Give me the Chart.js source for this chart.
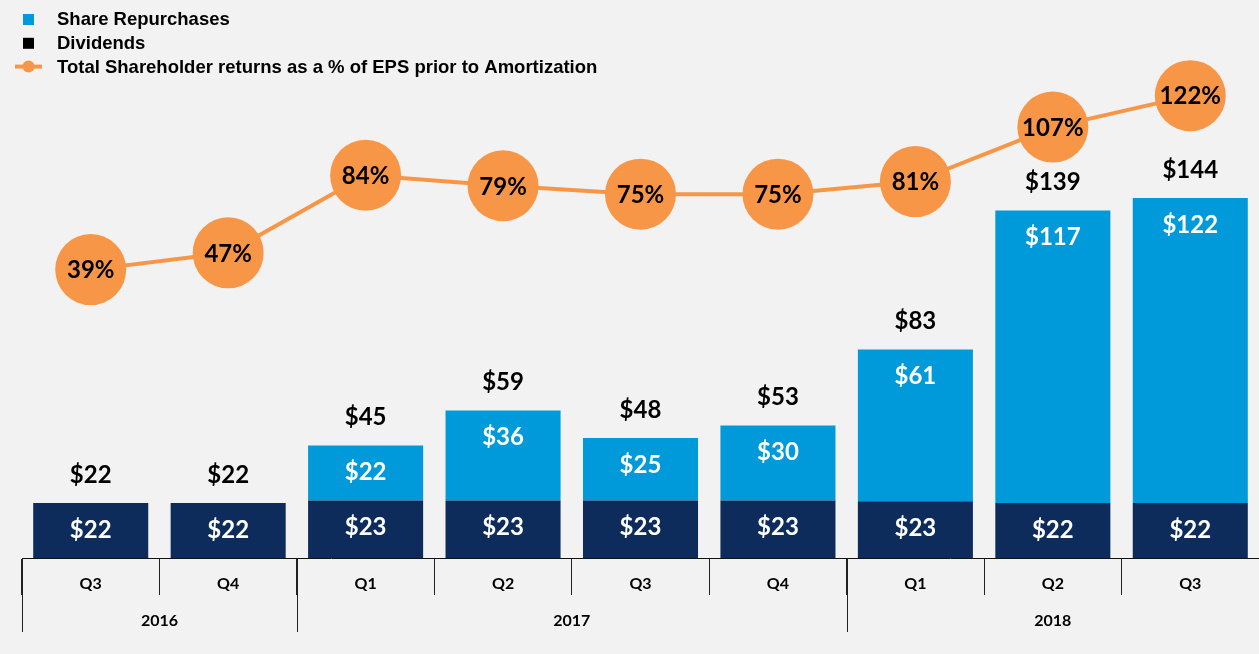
<!DOCTYPE html>
<html>
<head>
<meta charset="utf-8">
<title>Shareholder returns</title>
<script src="https://cdn.jsdelivr.net/npm/chart.js@4/dist/chart.umd.min.js"></script>
<style>
  html, body { margin: 0; padding: 0; background: #f2f2f2; }
  #wrap { width: 1259px; height: 654px; }
</style>
</head>
<body>
<div id="wrap"><canvas id="returns" width="1259" height="654"></canvas></div>
<script>
// quarters on the axis, years grouped underneath
const quarters = ['Q3', 'Q4', 'Q1', 'Q2', 'Q3', 'Q4', 'Q1', 'Q2', 'Q3'];
const years = ['2016', '2017', '2018'];
const quartersPerYear = [2, 4, 3];

// $ millions
const dividends = [22, 22, 23, 23, 23, 23, 22.7, 22, 22];
const repurchases = [0, 0, 22, 36, 25, 30, 60.7, 117, 122];
// % of EPS prior to amortization
const returnPct = [39, 47, 84, 79, 75, 75, 81, 107, 122];

const BLUE = '#009ada';
const NAVY = '#0d2c5c';
const ORANGE = '#f79646';
const LABEL_FONT = 'bold 24px Lato';
const AXIS_FONT = 'bold 16px Lato';

const money = v => '$' + Math.round(v);

// legend in the top-left corner, one item per row
const legendRows = [
  { text: 'Share Repurchases', kind: 'box', color: BLUE },
  { text: 'Dividends', kind: 'box', color: '#000' },
  { text: 'Total Shareholder returns as a % of EPS prior to Amortization', kind: 'line', color: ORANGE }
];

const stackedLegend = {
  id: 'stackedLegend',
  afterDraw(chart) {
    const ctx = chart.ctx;
    ctx.save();
    ctx.font = 'bold 18.5px "Liberation Sans", Arial';
    ctx.textBaseline = 'middle';
    ctx.textAlign = 'left';
    legendRows.forEach((row, i) => {
      const y = 19 + i * 23.8;
      ctx.fillStyle = row.color;
      if (row.kind === 'box') {
        ctx.fillRect(23, y - 5, 11, 11);
      } else {
        ctx.strokeStyle = row.color;
        ctx.lineWidth = 4;
        ctx.beginPath();
        ctx.moveTo(15, y);
        ctx.lineTo(42, y);
        ctx.stroke();
        ctx.beginPath();
        ctx.arc(28.5, y, 6, 0, Math.PI * 2);
        ctx.fill();
      }
      ctx.fillStyle = '#000';
      ctx.fillText(row.text, 57, y + 1);
    });
    ctx.restore();
  }
};

// value labels: inside the bar segments, totals above, % inside the circles
const valueLabels = {
  id: 'valueLabels',
  afterDatasetsDraw(chart) {
    const ctx = chart.ctx;
    const divBars = chart.getDatasetMeta(0).data;
    const repBars = chart.getDatasetMeta(1).data;
    const points = chart.getDatasetMeta(2).data;
    ctx.save();
    ctx.font = LABEL_FONT;
    ctx.textAlign = 'center';
    ctx.textBaseline = 'middle';

    divBars.forEach((bar, i) => {
      ctx.fillStyle = '#fff';
      ctx.fillText(money(dividends[i]), bar.x, bar.y + 27);
      if (repurchases[i] > 0) {
        ctx.fillText(money(repurchases[i]), repBars[i].x, repBars[i].y + 27);
      }
      const top = Math.min(bar.y, repBars[i].y);
      ctx.fillStyle = '#000';
      ctx.fillText(money(dividends[i] + repurchases[i]), bar.x, top - 28);
    });

    points.forEach((pt, i) => {
      ctx.fillStyle = '#000';
      ctx.fillText(returnPct[i] + '%', pt.x, pt.y + 1);
    });
    ctx.restore();
  }
};

// second row of the category axis: year groups with long separators
const yearAxis = {
  id: 'yearAxis',
  afterDraw(chart) {
    const x = chart.scales.x;
    const ctx = chart.ctx;
    const bottom = chart.chartArea.bottom;
    const step = x.getPixelForValue(1) - x.getPixelForValue(0);
    ctx.save();
    ctx.strokeStyle = '#222';
    ctx.lineWidth = 1;
    ctx.font = AXIS_FONT;
    ctx.fillStyle = '#000';
    ctx.textAlign = 'center';
    ctx.textBaseline = 'middle';
    let start = 0;
    years.forEach((yr, i) => {
      const n = quartersPerYear[i];
      const left = x.getPixelForValue(start) - step / 2;
      const right = x.getPixelForValue(start + n - 1) + step / 2;
      [left, right].forEach(px => {
        const p = Math.round(px) + 0.5;
        ctx.beginPath();
        ctx.moveTo(p, bottom);
        ctx.lineTo(p, bottom + 74);
        ctx.stroke();
      });
      ctx.fillText(yr, (left + right) / 2, bottom + 63);
      start += n;
    });
    ctx.restore();
  }
};

function draw() {
  new Chart(document.getElementById('returns'), {
    data: {
      labels: quarters,
      datasets: [
        {
          type: 'bar',
          label: 'Dividends',
          data: dividends,
          backgroundColor: NAVY,
          yAxisID: 'y',
          order: 1,
          categoryPercentage: 1,
          barPercentage: 0.837
        },
        {
          type: 'bar',
          label: 'Share Repurchases',
          data: repurchases,
          backgroundColor: BLUE,
          yAxisID: 'y',
          order: 2,
          categoryPercentage: 1,
          barPercentage: 0.837
        },
        {
          type: 'line',
          label: 'Total Shareholder returns as a % of EPS prior to Amortization',
          data: returnPct,
          borderColor: ORANGE,
          borderWidth: 4,
          backgroundColor: ORANGE,
          pointBackgroundColor: ORANGE,
          pointBorderWidth: 0,
          pointRadius: 35.5,
          pointHoverRadius: 35.5,
          tension: 0,
          clip: false,
          yAxisID: 'y1',
          order: 0
        }
      ]
    },
    options: {
      responsive: false,
      animation: false,
      layout: {
        autoPadding: false,
        padding: { top: 90, left: 22, right: 0, bottom: 0 }
      },
      plugins: {
        legend: { display: false },
        tooltip: { enabled: false }
      },
      scales: {
        x: {
          stacked: true,
          offset: true,
          grid: {
            drawOnChartArea: false,
            offset: true,
            tickLength: 37,
            color: '#222'
          },
          border: { display: true, color: '#111', width: 1 },
          ticks: {
            color: '#000',
            font: { family: 'Lato', size: 16, weight: 'bold' },
            padding: -21,
            maxRotation: 0
          },
          afterFit(scale) { scale.height = 96; }
        },
        y: { display: false, stacked: true, min: 0, max: 187.2 },
        y1: { display: false, min: -98.6, max: 124.7 }
      }
    },
    plugins: [valueLabels, yearAxis, stackedLegend]
  });
}

Promise.all([
  document.fonts.load('bold 24px Lato'),
  document.fonts.load('bold 18px "Liberation Sans"')
]).then(draw, draw);
</script>
</body>
</html>
